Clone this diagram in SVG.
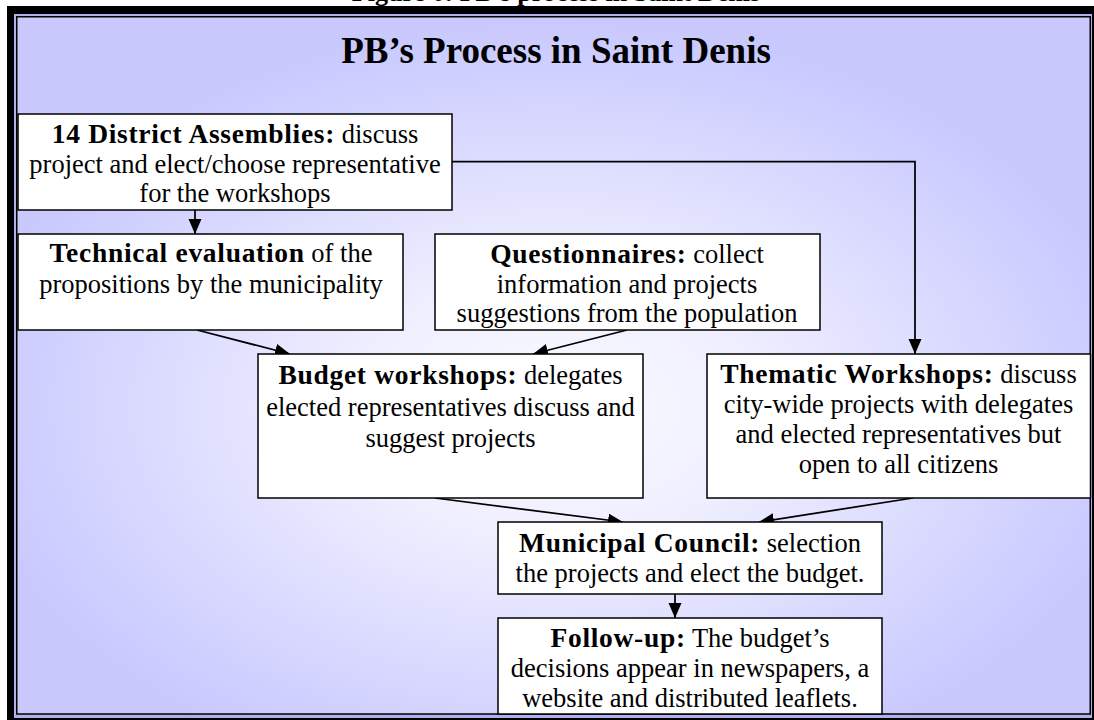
<svg xmlns="http://www.w3.org/2000/svg" width="1094" height="720" viewBox="0 0 1094 720">
  <defs>
    <radialGradient id="bg" cx="0.5" cy="0.56" r="0.56">
      <stop offset="0" stop-color="#fbfbff"/>
      <stop offset="0.35" stop-color="#eeeeff"/>
      <stop offset="0.92" stop-color="#ccccff"/>
      <stop offset="1" stop-color="#c8c8fc"/>
    </radialGradient>
    <marker id="ah" markerUnits="userSpaceOnUse" markerWidth="16" markerHeight="14" refX="15" refY="6.5" orient="auto">
      <path d="M0,0 L15,6.5 L0,13 Z" fill="#000"/>
    </marker>
    <style>
      .t { font-family: "Liberation Serif", "Times New Roman", serif; font-size: 26.5px; text-anchor: middle; fill: #000; }
      .b { font-weight: bold; font-size: 27.5px; letter-spacing: 0.7px; }
      .title { font-family: "Liberation Serif", "Times New Roman", serif; font-size: 37px; font-weight: bold; text-anchor: middle; fill: #000; }
      .caption { font-family: "Liberation Serif", "Times New Roman", serif; font-size: 26px; font-weight: bold; text-anchor: middle; fill: #000; }
      .box { fill: #ffffff; stroke: #000; stroke-width: 1.5; }
      .conn { fill: none; stroke: #000; stroke-width: 1.75; marker-end: url(#ah); }
    </style>
  </defs>

  <rect x="0" y="0" width="1094" height="720" fill="#ffffff"/>
  <text class="caption" x="556" y="0.5">Figure 6: PB’s process in Saint Denis</text>

  <g id="frame">
    <rect x="7" y="6" width="1100" height="720" fill="#000"/>
    <rect x="14" y="14" width="1078" height="704" fill="#b0b0ec"/>
    <rect x="16.75" y="16.75" width="1073.5" height="697.25" fill="url(#bg)" stroke="#000" stroke-width="1.5"/>
  </g>

  <text id="title" class="title" x="556" y="62.7">PB’s Process in Saint Denis</text>

  <g id="connectors">
    <line class="conn" x1="195" y1="210" x2="195" y2="234"/>
    <polyline class="conn" points="452,161.7 915,161.7 915,354"/>
    <line class="conn" x1="197" y1="330" x2="290" y2="354"/>
    <line class="conn" x1="627" y1="330" x2="533" y2="354"/>
    <line class="conn" x1="435" y1="498" x2="623" y2="522"/>
    <line class="conn" x1="913" y1="498" x2="759" y2="522"/>
    <line class="conn" x1="675" y1="594" x2="675" y2="618"/>
  </g>

  <g id="district">
    <rect class="box" x="18" y="114" width="434" height="96"/>
    <text class="t" x="235" y="143"><tspan class="b">14 District Assemblies:</tspan> discuss</text>
    <text class="t" x="235" y="172.5">project and elect/choose representative</text>
    <text class="t" x="235" y="202">for the workshops</text>
  </g>

  <g id="technical">
    <rect class="box" x="18" y="234" width="385" height="96"/>
    <text class="t" x="211" y="262.3"><tspan class="b">Technical evaluation</tspan> of the</text>
    <text class="t" x="211" y="293">propositions by the municipality</text>
  </g>

  <g id="questionnaires">
    <rect class="box" x="435" y="234" width="385" height="96"/>
    <text class="t" x="627" y="262.7"><tspan class="b">Questionnaires:</tspan> collect</text>
    <text class="t" x="627" y="292.7">information and projects</text>
    <text class="t" x="627" y="321.7">suggestions from the population</text>
  </g>

  <g id="budget">
    <rect class="box" x="258" y="354" width="385" height="144"/>
    <text class="t" x="450.5" y="384"><tspan class="b">Budget workshops:</tspan> delegates</text>
    <text class="t" x="450.5" y="415.5">elected representatives discuss and</text>
    <text class="t" x="450.5" y="447">suggest projects</text>
  </g>

  <g id="thematic">
    <rect class="box" x="707" y="354" width="383.5" height="144"/>
    <text class="t" x="898.5" y="383"><tspan class="b">Thematic Workshops:</tspan> discuss</text>
    <text class="t" x="898.5" y="413">city-wide projects with delegates</text>
    <text class="t" x="898.5" y="443">and elected representatives but</text>
    <text class="t" x="898.5" y="473">open to all citizens</text>
  </g>

  <g id="council">
    <rect class="box" x="498" y="522" width="384" height="72"/>
    <text class="t" x="690" y="552"><tspan class="b">Municipal Council:</tspan> selection</text>
    <text class="t" x="690" y="582">the projects and elect the budget.</text>
  </g>

  <g id="followup">
    <rect class="box" x="498" y="618" width="384" height="96"/>
    <text class="t" x="690" y="647"><tspan class="b">Follow-up:</tspan> The budget’s</text>
    <text class="t" x="690" y="677">decisions appear in newspapers, a</text>
    <text class="t" x="690" y="707">website and distributed leaflets.</text>
  </g>
</svg>
